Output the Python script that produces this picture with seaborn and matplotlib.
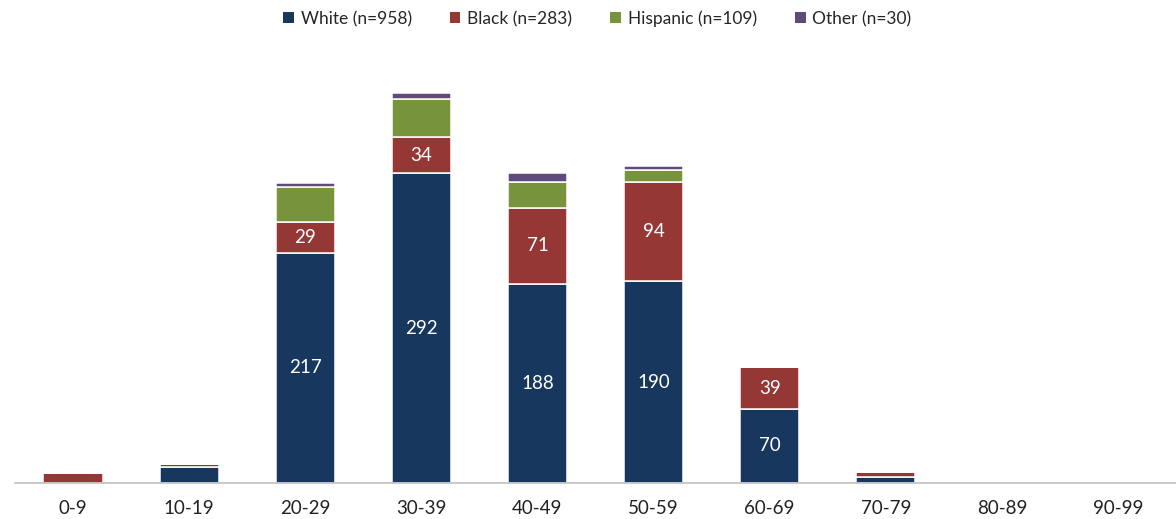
import numpy as np
import pandas as pd
import seaborn as sns
import matplotlib.pyplot as plt
from matplotlib.patches import Patch

# age groups and counts per race
age_groups = ["0-9", "10-19", "20-29", "30-39", "40-49", "50-59", "60-69", "70-79", "80-89", "90-99"]
white = [0, 15, 217, 292, 188, 190, 70, 6, 0, 0]
black = [9, 3, 29, 34, 71, 94, 39, 4, 0, 0]
hispanic = [0, 0, 33, 36, 25, 11, 0, 0, 0, 0]
other = [0, 0, 4, 6, 8, 4, 0, 0, 0, 0]

series_names = ["White (n=958)", "Black (n=283)", "Hispanic (n=109)", "Other (n=30)"]
series_colors = ["#17375E", "#953735", "#77933C", "#604A7B"]
labelled = [True, True, False, False]

sns.set_theme(style="white")
plt.rcParams['font.family'] = ['Lato', 'DejaVu Sans']

fig = plt.figure(figsize=(11.76, 5.19), dpi=100)
ax = fig.add_axes([15 / 1176, 36 / 519, 1 - 15 / 1176, (483 - 60) / 519])

bottom = np.zeros(len(age_groups))
for name, vals, color, lab in zip(series_names, [white, black, hispanic, other], series_colors, labelled):
    df = pd.DataFrame({"age": age_groups, "count": vals})
    sns.barplot(data=df, x="age", y="count", color=color, bottom=bottom.copy(),
                width=0.51, edgecolor="white", linewidth=1.1, ax=ax, saturation=1)
    if lab:
        for i, v in enumerate(vals):
            if v >= 20:
                ax.text(i, bottom[i] + v / 2, str(v), ha="center", va="center",
                        color="white", fontsize=13.5)
    bottom += np.array(vals)

ax.set_ylim(0, (483 - 60) / 1.061)
ax.set_xlim(-0.5, len(age_groups) - 0.5)
ax.set_xlabel("")
ax.set_ylabel("")
ax.set_yticks([])
sns.despine(ax=ax, left=True)
ax.spines["bottom"].set_color("#BFBFBF")
ax.spines["bottom"].set_linewidth(1.2)
ax.tick_params(axis="x", length=0, pad=12, labelsize=13.5, labelcolor="#222222")

handles = [Patch(facecolor=c, edgecolor="none") for c in series_colors]
fig.legend(handles, series_names, loc="upper center", ncol=4, frameon=False,
           bbox_to_anchor=(0.508, 1.01), fontsize=12.5, handlelength=0.6, handleheight=0.6,
           handletextpad=0.4, columnspacing=2.2)

fig.savefig("out.png", dpi=100)
